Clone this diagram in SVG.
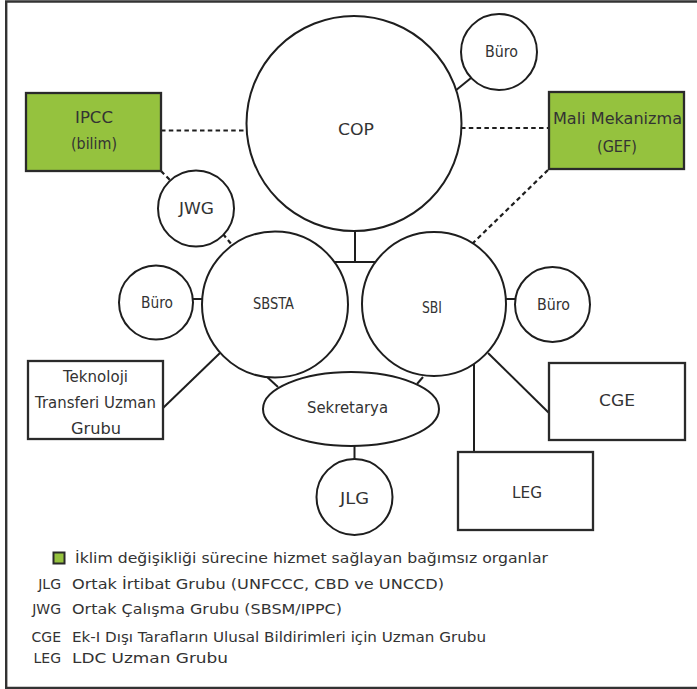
<svg xmlns="http://www.w3.org/2000/svg" width="697" height="689" viewBox="0 0 697 689">
<style>
  .c{fill:#fff;stroke:#1e1e1e;stroke-width:2}
  .b{fill:#fff;stroke:#2a2a2a;stroke-width:2.3}
  .g{fill:#95c23e;stroke:#2a2a2a;stroke-width:2.3}
  .l{stroke:#1e1e1e;stroke-width:2;fill:none}
  .d{stroke:#1e1e1e;stroke-width:2.2;fill:none;stroke-dasharray:4.5 3.3}
  text{font-family:"DejaVu Sans","Liberation Sans",sans-serif;fill:#333;font-size:15px}
  .t{text-anchor:middle}
  .lg{font-size:14px}
  .ab{font-size:14px;text-anchor:end}
</style>
<rect width="697" height="689" fill="#fff"/>
<path d="M700 1.5 H6.2 V688 H700" fill="none" stroke="#333" stroke-width="2.4"/>

<g id="connectors">
  <line class="d" x1="161" y1="130.5" x2="247" y2="130.5"/>
  <line class="d" x1="461" y1="128" x2="549" y2="128"/>
  <line class="d" x1="548" y1="170" x2="473" y2="243"/>
  <line class="d" x1="161" y1="171" x2="170" y2="180"/>
  <line class="d" x1="223" y1="234" x2="232" y2="245"/>
  <line class="l" x1="455" y1="91" x2="471" y2="78"/>
  <line class="l" x1="355" y1="231" x2="355" y2="262"/>
  <line class="l" x1="334" y1="262" x2="376" y2="262"/>
  <line class="l" x1="192.8" y1="299" x2="202.2" y2="299"/>
  <line class="l" x1="505.8" y1="299" x2="515.4" y2="299"/>
  <line class="l" x1="163" y1="408" x2="220" y2="353"/>
  <line class="l" x1="266" y1="376" x2="278" y2="387"/>
  <line class="l" x1="423" y1="377" x2="417" y2="384"/>
  <line class="l" x1="354.5" y1="446" x2="354.5" y2="459"/>
  <line class="l" x1="474" y1="362" x2="474" y2="452"/>
  <line class="l" x1="488" y1="353" x2="549" y2="413"/>
</g>

<g id="cop">
  <circle class="c" cx="354" cy="123.5" r="107.5"/>
  <text class="t" x="356" y="135" textLength="36" lengthAdjust="spacingAndGlyphs">COP</text>
</g>
<g id="cop-buro">
  <circle class="c" cx="499" cy="52" r="38"/>
  <text class="t" x="501.5" y="57" textLength="33" lengthAdjust="spacingAndGlyphs">Büro</text>
</g>
<g id="ipcc">
  <rect class="g" x="26" y="93" width="135" height="78"/>
  <text class="t" x="94" y="123" textLength="38" lengthAdjust="spacingAndGlyphs">IPCC</text>
  <text class="t" x="94" y="149" textLength="46" lengthAdjust="spacingAndGlyphs">(bilim)</text>
</g>
<g id="gef">
  <rect class="g" x="549" y="92" width="135" height="77"/>
  <text class="t" x="617.5" y="124" textLength="129" lengthAdjust="spacingAndGlyphs">Mali Mekanizma</text>
  <text class="t" x="617" y="152" textLength="40" lengthAdjust="spacingAndGlyphs">(GEF)</text>
</g>
<g id="jwg">
  <circle class="c" cx="196" cy="208.5" r="38"/>
  <text class="t" x="196.5" y="214" textLength="35" lengthAdjust="spacingAndGlyphs">JWG</text>
</g>
<g id="sbsta">
  <circle class="c" cx="275" cy="304.5" r="73"/>
  <text class="t" x="273.5" y="309" textLength="41" lengthAdjust="spacingAndGlyphs">SBSTA</text>
</g>
<g id="sbi">
  <circle class="c" cx="434" cy="304" r="72"/>
  <text class="t" x="432" y="313" textLength="20" lengthAdjust="spacingAndGlyphs">SBI</text>
</g>
<g id="sbsta-buro">
  <circle class="c" cx="156" cy="302.5" r="37"/>
  <text class="t" x="157" y="308" textLength="32" lengthAdjust="spacingAndGlyphs">Büro</text>
</g>
<g id="sbi-buro">
  <circle class="c" cx="552.5" cy="304.5" r="37.5"/>
  <text class="t" x="553.5" y="310" textLength="33" lengthAdjust="spacingAndGlyphs">Büro</text>
</g>
<g id="ttug">
  <rect class="b" x="28" y="361" width="135" height="78"/>
  <text class="t" x="95.5" y="381.5" textLength="65" lengthAdjust="spacingAndGlyphs">Teknoloji</text>
  <text class="t" x="95.5" y="408" textLength="121" lengthAdjust="spacingAndGlyphs">Transferi Uzman</text>
  <text class="t" x="96" y="434" textLength="50" lengthAdjust="spacingAndGlyphs">Grubu</text>
</g>
<g id="sekretarya">
  <ellipse class="c" cx="351" cy="409" rx="88" ry="37"/>
  <text class="t" x="347.5" y="413" textLength="81" lengthAdjust="spacingAndGlyphs">Sekretarya</text>
</g>
<g id="jlg">
  <circle class="c" cx="354.5" cy="497" r="38"/>
  <text class="t" x="354.5" y="503.5" textLength="29" lengthAdjust="spacingAndGlyphs">JLG</text>
</g>
<g id="cge">
  <rect class="b" x="549" y="363" width="136" height="77"/>
  <text class="t" x="617" y="405.5" textLength="36" lengthAdjust="spacingAndGlyphs">CGE</text>
</g>
<g id="leg">
  <rect class="b" x="458" y="452" width="135" height="78"/>
  <text class="t" x="527" y="497.5" textLength="30" lengthAdjust="spacingAndGlyphs">LEG</text>
</g>

<g id="legend">
  <rect x="53.5" y="552.5" width="11" height="11" fill="#95c23e" stroke="#2a2a2a" stroke-width="2"/>
  <text class="lg" x="75" y="563" textLength="473" lengthAdjust="spacingAndGlyphs">İklim değişikliği sürecine hizmet sağlayan bağımsız organlar</text>
  <text class="ab" x="61" y="589">JLG</text>
  <text class="lg" x="72" y="589" textLength="372" lengthAdjust="spacingAndGlyphs">Ortak İrtibat Grubu (UNFCCC, CBD ve UNCCD)</text>
  <text class="ab" x="61" y="614">JWG</text>
  <text class="lg" x="72" y="614" textLength="270" lengthAdjust="spacingAndGlyphs">Ortak Çalışma Grubu (SBSM/IPPC)</text>
  <text class="ab" x="61" y="642">CGE</text>
  <text class="lg" x="72" y="642" textLength="414" lengthAdjust="spacingAndGlyphs">Ek-I Dışı Tarafların Ulusal Bildirimleri için Uzman Grubu</text>
  <text class="ab" x="61" y="663">LEG</text>
  <text class="lg" x="72" y="663" textLength="156" lengthAdjust="spacingAndGlyphs">LDC Uzman Grubu</text>
</g>
</svg>
